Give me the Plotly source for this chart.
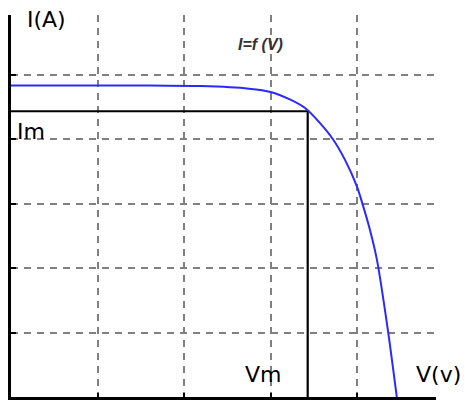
import plotly.graph_objects as go

# I-V curve of a solar cell
V_curve = [0.0, 1.0, 1.6, 2.2, 2.75, 3.0, 3.23, 3.40, 3.57, 3.72, 3.86, 4.00, 4.06, 4.15, 4.23, 4.36, 4.46]
I_curve = [4.83, 4.83, 4.83, 4.82, 4.78, 4.73, 4.61, 4.48, 4.25, 4.00, 3.68, 3.26, 3.01, 2.59, 2.13, 1.01, 0.0]

Vm = 3.43
Im = 4.43

grid_x = [1, 2, 3, 4]
grid_y = [1, 2, 3, 4, 5]

fig = go.Figure()

fig.add_trace(go.Scatter(x=[0, Vm, Vm], y=[Im, Im, 0], mode="lines",
                         line=dict(color="black", width=2.2), hoverinfo="skip"))
fig.add_trace(go.Scatter(x=V_curve, y=I_curve, mode="lines",
                         line=dict(color="#2a2aff", width=2, shape="spline", smoothing=0.6),
                         hoverinfo="skip"))

font_main = dict(family="DejaVu Sans", size=22, color="black")
ann = [
    dict(text="I(A)", x=0.0824, y=0.987),
    dict(text="Im", x=0.0470, y=0.695),
    dict(text="Vm", x=0.593, y=0.0576),
    dict(text="V(v)", x=1.007, y=0.0576),
]
for a in ann:
    fig.add_annotation(x=a["x"], y=a["y"], text=a["text"], showarrow=False,
                       xref="paper", yref="paper", xanchor="center", yanchor="middle",
                       font=font_main)
fig.add_annotation(x=0.588, y=0.924, text="<b><i>I=f (V)</i></b>", showarrow=False,
                   xref="paper", yref="paper", xanchor="center", yanchor="middle",
                   font=dict(family="Liberation Sans", size=16, color="#333333"))

fig.update_layout(
    width=465, height=401,
    margin=dict(l=11, r=29, t=15, b=4),
    paper_bgcolor="white", plot_bgcolor="white",
    showlegend=False,
    xaxis=dict(range=[0, 425 / 86.5], tickvals=grid_x, showticklabels=False,
               showgrid=True, gridcolor="#808080", gridwidth=2, griddash="7px,6px",
               showline=True, linecolor="black", linewidth=2.5,
               ticks="inside", ticklen=4, tickwidth=2, tickcolor="black",
               zeroline=False, fixedrange=True),
    yaxis=dict(range=[0, 382 / 64.5], tickvals=grid_y, showticklabels=False,
               showgrid=True, gridcolor="#808080", gridwidth=2, griddash="7px,6px",
               showline=True, linecolor="black", linewidth=2.5,
               ticks="inside", ticklen=5, tickwidth=2, tickcolor="black",
               zeroline=False, fixedrange=True),
)

fig.write_html("out.html", config={"displayModeBar": False},
               post_script="document.body.style.margin='0';document.body.style.overflow='hidden';")
